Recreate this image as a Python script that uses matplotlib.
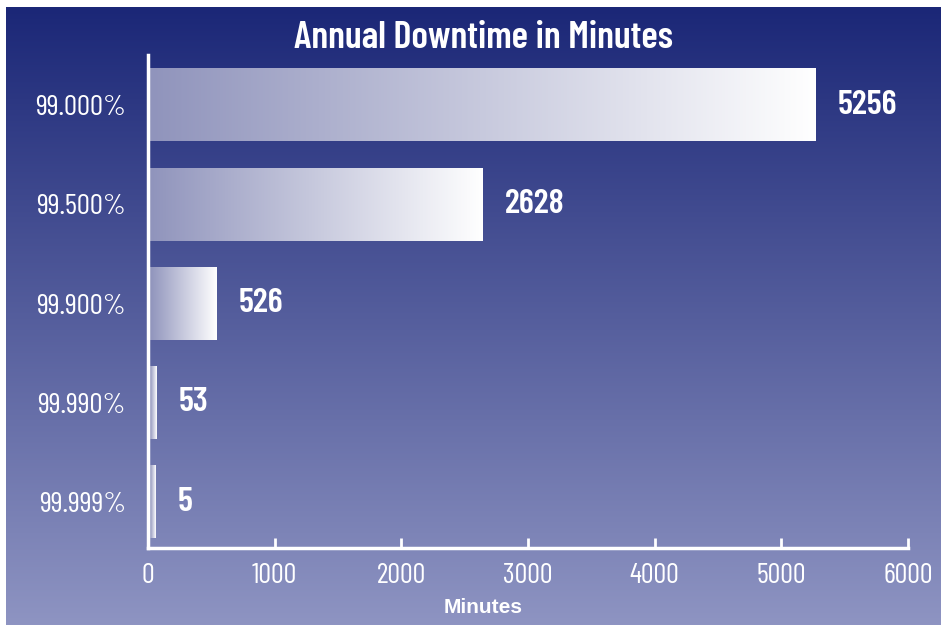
import matplotlib
matplotlib.use("Agg")
import matplotlib.pyplot as plt
import numpy as np
from matplotlib import font_manager
from matplotlib.colors import LinearSegmentedColormap

# data
levels = ["99.000%", "99.500%", "99.900%", "99.990%", "99.999%"]
minutes = [5256, 2628, 526, 53, 5]
xticks = [0, 1000, 2000, 3000, 4000, 5000, 6000]

# pick a condensed face if one is installed
names = {f.name for f in font_manager.fontManager.ttflist}
cond = 'Open Sans'
for cand in ['Barlow Condensed', 'Roboto Condensed', 'Archivo Narrow', 'PT Sans Narrow',
             'Open Sans Condensed', 'IBM Plex Sans Condensed']:
    if cand in names:
        cond = cand
        break
fam = [cond, 'DejaVu Sans']
plt.rcParams['font.family'] = fam
plt.rcParams['font.stretch'] = 'condensed'

fig = plt.figure(figsize=(9.44, 6.25), dpi=100)
fig.patch.set_facecolor('white')

# background gradient
bg = fig.add_axes([6/944, 0, 935/944, 1 - 7/625])
bg_cmap = LinearSegmentedColormap.from_list('bg', ['#1b2777', '#8e94c2'])
bg.imshow(np.linspace(0, 1, 256).reshape(-1, 1), cmap=bg_cmap, aspect='auto',
          extent=[0, 1, 0, 1], origin='upper')
bg.set_axis_off()

ax = fig.add_axes([148/944, 1 - 548/625, 760/944, 493/625])
ax.patch.set_alpha(0)

bar_cmap = LinearSegmentedColormap.from_list('bar', ['#9094bc', '#ffffff'])
grad = np.linspace(0, 1, 256).reshape(1, -1)
h = 0.73
ypos = np.arange(len(levels))
bars = ax.barh(ypos, minutes, height=h, color='none')
for b, val in zip(bars, minutes):
    x0, y0 = b.get_x(), b.get_y()
    w = max(val, 40)
    ax.imshow(grad, cmap=bar_cmap, aspect='auto',
              extent=[x0 + 15, x0 + 15 + w, y0 + b.get_height(), y0], zorder=2)
    ax.text(w + 190, y0 + h / 2, str(val), color='white', fontsize=25,
            fontweight='semibold', va='center', ha='left')

ax.set_xlim(0, 6000)
ax.set_ylim(4.463, -0.504)
ax.set_yticks(ypos)
ax.set_yticklabels(levels)
ax.set_xticks(xticks)
ax.tick_params(axis='y', length=0, pad=16, labelsize=21, labelcolor='white')
ax.tick_params(axis='x', direction='in', length=7, width=2, color='white',
               pad=11, labelsize=20.5, labelcolor='white')
for s in ['top', 'right']:
    ax.spines[s].set_visible(False)
for s in ['left', 'bottom']:
    ax.spines[s].set_color('white')
    ax.spines[s].set_linewidth(2.5)

ax.set_xlabel('Minutes', color='white', fontsize=15, fontweight='bold', va='center',
              family=['Liberation Sans', 'DejaVu Sans'], fontstretch='normal')
ax.xaxis.set_label_coords(0.441, -0.12)
fig.text(483/944, 1 - 38/625, 'Annual Downtime in Minutes', color='white',
         fontsize=27.5, fontweight='semibold', ha='center', va='center')

fig.savefig('out.png', dpi=100)
